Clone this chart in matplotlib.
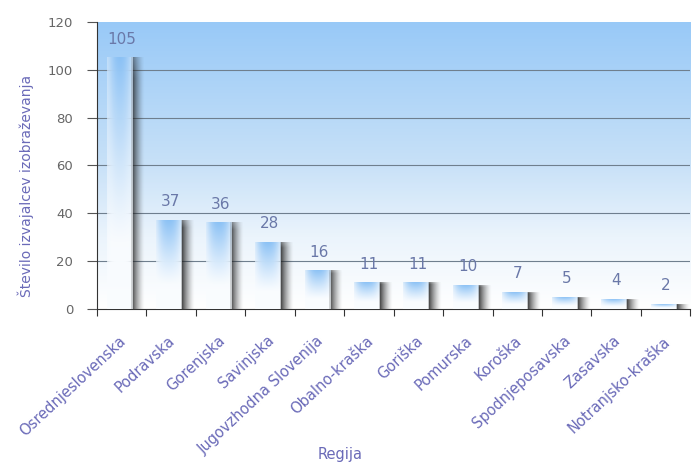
import numpy as np
import matplotlib.pyplot as plt
import matplotlib.transforms as mtransforms
from matplotlib.colors import LinearSegmentedColormap

regije = ['Osrednjeslovenska', 'Podravska', 'Gorenjska', 'Savinjska',
          'Jugovzhodna Slovenija', 'Obalno-kraška', 'Goriška', 'Pomurska',
          'Koroška', 'Spodnjeposavska', 'Zasavska', 'Notranjsko-kraška']
stevilo = [105, 37, 36, 28, 16, 11, 11, 10, 7, 5, 4, 2]
yticks = [0, 20, 40, 60, 80, 100, 120]

label_col = '#6a6ab8'
value_col = '#6a78a8'

fig = plt.figure(figsize=(6.96, 4.66), dpi=100)
ax = fig.add_axes([0.139, 0.337, 0.853, 0.616])

# background gradient, blue at top -> white at bottom
bg = LinearSegmentedColormap.from_list(
    'bg', [(0, '#ffffff'), (0.25, '#ebf4fc'), (0.5, '#c8e1f8'), (1, '#98c9f7')])
grad = np.linspace(0, 1, 256).reshape(-1, 1)
ax.imshow(grad, cmap=bg, aspect='auto', origin='lower',
          extent=[0, 1, 0, 1], transform=ax.transAxes, zorder=0)

for y in yticks[1:-1]:
    ax.axhline(y, color='#6f7f8e', lw=0.8, zorder=1)

# glossy bars: body gradient + dark shadow on the right
def body_img():
    h, w = 100, 40
    v = np.linspace(0, 1, h).reshape(-1, 1)       # 0 bottom -> 1 top
    u = np.linspace(-1, 1, w).reshape(1, -1)
    top = np.array([0.55, 0.76, 0.96])
    white = np.array([0.98, 0.99, 1.0])
    t = np.clip((v - 0.25) / 0.75, 0, 1) ** 1.2
    t = t * (1 - 0.6 * np.abs(u) ** 2)
    img = white[None, None, :] * (1 - t[..., None]) + top[None, None, :] * t[..., None]
    alpha = np.ones((h, w)) * (1 - 0.3 * np.abs(u) ** 4)
    return np.dstack([img, alpha])

def shadow_img():
    h, w = 100, 30
    u = np.linspace(0, 1, w).reshape(1, -1)
    v = np.linspace(0, 1, h).reshape(-1, 1)
    alpha = (1 - u) ** 1.5 * np.ones((h, 1))
    alpha *= np.clip((1 - v) / 0.08, 0, 1) * 0.3 + 0.7
    rgb = np.zeros((h, w, 3)) + 0.12
    return np.dstack([rgb, alpha * 0.9])

bimg = body_img()
simg = shadow_img()
x = np.arange(len(regije))
for xi, val in zip(x, stevilo):
    ax.imshow(simg, aspect='auto', origin='lower', interpolation='bilinear',
              extent=[xi + 0.2, xi + 0.48, 0, val], zorder=2)
    ax.imshow(bimg, aspect='auto', origin='lower', interpolation='bilinear',
              extent=[xi - 0.3, xi + 0.22, 0, val], zorder=3)
    ax.annotate(str(val), (xi, val), xytext=(0, 8), textcoords='offset points',
                ha='center', va='bottom', color=value_col, fontsize=11, zorder=4)

ax.set_xlim(-0.5, len(regije) - 0.5)
ax.set_ylim(0, 120)
ax.set_yticks(yticks)
ax.set_xticks(np.arange(len(regije) + 1) - 0.5)
ax.set_xticklabels([])
ax.tick_params(axis='x', length=5, color='#333333')
ax.tick_params(axis='y', length=7, pad=10, color='#555555', labelcolor='#666666', labelsize=9.5)

# category labels, rotated, right end under the category centre
shift = mtransforms.ScaledTranslation(-3 / 100, -24 / 100, fig.dpi_scale_trans)
for xi, name in zip(x, regije):
    ax.text(xi, 0, name, transform=ax.get_xaxis_transform() + shift,
            rotation=43, ha='right', va='top', rotation_mode='anchor',
            color=label_col, fontsize=10.5, clip_on=False)

for s in ['top', 'right']:
    ax.spines[s].set_visible(False)
ax.spines['left'].set_color('#333333')
ax.spines['bottom'].set_color('#333333')

ax.set_ylabel('Število izvajalcev izobraževanja', color=label_col, fontsize=10)
ax.yaxis.set_label_coords(-0.105, 0.43)
ax.set_xlabel('Regija', color=label_col, fontsize=10.5)
ax.xaxis.set_label_coords(0.41, -0.48)

fig.savefig('out.png', dpi=100)
